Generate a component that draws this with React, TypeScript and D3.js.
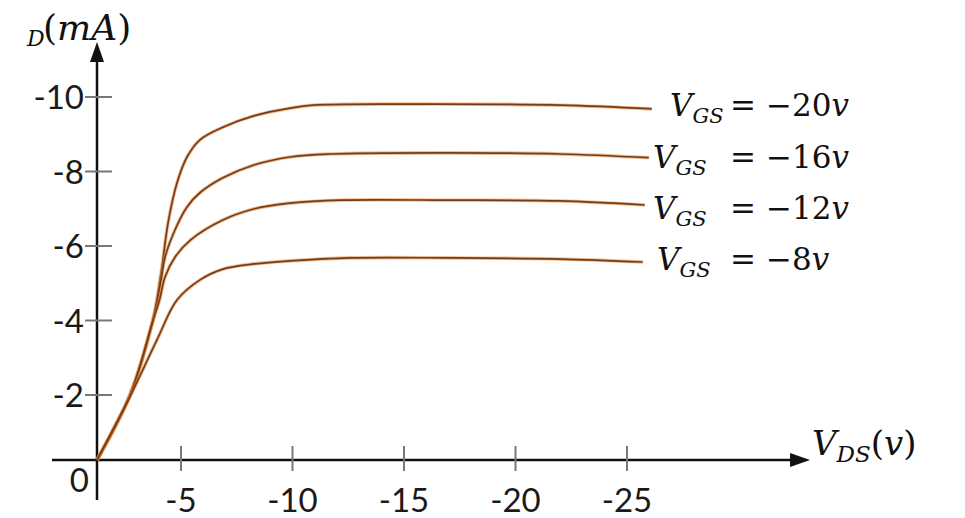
import React from 'react';
import { scaleLinear, line, curveCatmullRom } from 'd3';

const width = 965;
const height = 518;

// tick values on both axes
const xTicks = [-5, -10, -15, -20, -25];
const yTicks = [-2, -4, -6, -8, -10];

// gate voltages for the four curves (labels on the right)
const vgsLabels = ['20', '16', '12', '8'];

// drain curves: V_DS (v) and I_D (mA)
const vds20 = [0, -1.96, -3.33, -3.75, -3.87, -4.23, -4.76, -5.27, -5.85, -6.88, -8.3, -9.89, -10.92, -14.82, -21.99, -26.11];
const id20 = [0, -2.0, -4.01, -5.09, -5.44, -6.62, -7.69, -8.39, -8.85, -9.19, -9.5, -9.7, -9.78, -9.81, -9.78, -9.68];

const vds16 = [0, -1.96, -3.33, -3.81, -4.05, -4.64, -5.27, -5.85, -6.88, -8.3, -9.89, -11.68, -17.06, -21.99, -25.98];
const id16 = [0, -2.0, -4.01, -5.09, -5.7, -6.43, -7.05, -7.43, -7.83, -8.18, -8.39, -8.47, -8.5, -8.47, -8.37];

const vds12 = [0, -1.96, -3.3, -3.72, -4.05, -4.64, -5.42, -6.88, -8.3, -9.89, -12.13, -17.06, -21.99, -25.8];
const id12 = [0, -1.98, -3.95, -4.55, -5.17, -5.7, -6.16, -6.7, -7.0, -7.15, -7.23, -7.23, -7.21, -7.1];

const vds8 = [0, -1.96, -3.57, -4.76, -5.85, -6.88, -8.3, -9.89, -12.58, -17.06, -21.99, -25.71];
const id8 = [0, -1.95, -3.48, -4.55, -5.09, -5.38, -5.52, -5.6, -5.68, -5.68, -5.65, -5.57];

const curves = [
  { vds: vds20, id: id20 },
  { vds: vds16, id: id16 },
  { vds: vds12, id: id12 },
  { vds: vds8, id: id8 },
];

// where each label's V starts, the "=" column is shared
const labelX = [670, 653, 653, 657];
const labelY = [116, 168, 219, 270];

// the drawing is hand made, so the scales are piecewise to hit the ticks
const xScale = scaleLinear().domain([0, -5, -25]).range([97, 181, 627]);
const yScale = scaleLinear().domain([0, -2, -10]).range([460, 395, 97]);

const App = () => {
  const pts = (c: { vds: number[]; id: number[] }) => c.vds.map((v, i) => [v, c.id[i]] as [number, number]);

  const path = line<[number, number]>()
    .x((d) => xScale(d[0]))
    .y((d) => yScale(d[1]))
    .curve(curveCatmullRom.alpha(0.5));

  const tickFont = "Lato, 'Open Sans', sans-serif";
  const mathFont = "'DejaVu Serif', serif";

  return (
    <svg
      width={width}
      height={height}
      style={{ position: 'absolute', left: 0, top: 0, background: '#fff' }}
    >
      {/* axes */}
      <line x1={97} y1={500} x2={97} y2={58} stroke="#111" strokeWidth={2.5} />
      <path d="M97,42 L90,62 L104,62 Z" fill="#111" />
      <line x1={52} y1={460} x2={792} y2={460} stroke="#111" strokeWidth={2.5} />
      <path d="M810,460 L790,453 L790,467 Z" fill="#111" />

      {/* y ticks */}
      {yTicks.map((t) => (
        <g key={'y' + t}>
          <line x1={85} x2={112} y1={yScale(t)} y2={yScale(t)} stroke="#777" strokeWidth={2} />
          <text
            x={84}
            y={yScale(t) + 12}
            textAnchor="end"
            fontFamily={tickFont}
            fontSize={33}
            fill="#1a1a1a"
          >
            {'-' + Math.abs(t)}
          </text>
        </g>
      ))}

      {/* x ticks */}
      {xTicks.map((t) => (
        <g key={'x' + t}>
          <line x1={xScale(t)} x2={xScale(t)} y1={446} y2={471} stroke="#777" strokeWidth={2} />
          <text
            x={xScale(t)}
            y={512}
            textAnchor="middle"
            fontFamily={tickFont}
            fontSize={33}
            fill="#1a1a1a"
          >
            {'-' + Math.abs(t)}
          </text>
        </g>
      ))}
      <text x={89} y={492} textAnchor="end" fontFamily={tickFont} fontSize={33} fill="#1a1a1a">
        0
      </text>

      {/* curves */}
      {curves.map((c, i) => (
        <g key={'c' + i}>
          <path d={path(pts(c)) || ''} fill="none" stroke="#d88a45" strokeWidth={3.6} strokeOpacity={0.55} />
          <path d={path(pts(c)) || ''} fill="none" stroke="#7a3a14" strokeWidth={1.7} />
        </g>
      ))}

      {/* curve labels */}
      {vgsLabels.map((v, i) => (
        <text key={'l' + v} y={labelY[i]} fontFamily={mathFont} fontSize={31} fill="#111">
          <tspan x={labelX[i]} fontStyle="italic">V</tspan>
          <tspan dy={7} fontSize={21} fontStyle="italic">GS</tspan>
          <tspan x={730} dy={-7}>=</tspan>
          <tspan x={766}>{'\u2212' + v}</tspan>
          <tspan fontStyle="italic">v</tspan>
        </text>
      ))}

      {/* axis titles */}
      <text fontFamily={mathFont} fontSize={36} fill="#111" y={40}>
        <tspan x={27} dy={6} fontSize={22} fontStyle="italic">D</tspan>
        <tspan x={43} dy={-6}>(</tspan>
        <tspan fontStyle="italic">mA</tspan>
        <tspan>)</tspan>
      </text>
      <text fontFamily={mathFont} fontSize={34} fill="#111" y={455}>
        <tspan x={812} fontStyle="italic">V</tspan>
        <tspan dy={7} fontSize={23} fontStyle="italic">DS</tspan>
        <tspan dy={-7}>(</tspan>
        <tspan fontStyle="italic">v</tspan>
        <tspan>)</tspan>
      </text>
    </svg>
  );
};

export default App;
